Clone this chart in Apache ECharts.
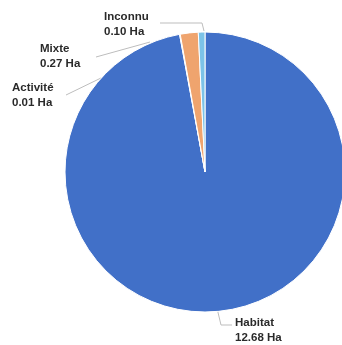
<!DOCTYPE html>
<html><head><meta charset="utf-8">
<script src="https://cdn.jsdelivr.net/npm/echarts@6/dist/echarts.min.js"></script>
<style>html,body{margin:0;padding:0;background:#fff}#c{width:342px;height:345px}</style>
</head><body><div id="c"></div>
<script>
var categories = ['Habitat', 'Activité', 'Mixte', 'Inconnu'];
var values = [12.68, 0.01, 0.27, 0.10];
var colors = ['#4170C8', '#E2E2E2', '#EFA46E', '#7CC3E8'];

var labelPos = {
  0: {x: 235, y: 315, line: [[221, 325], [232, 325]]},
  1: {x: 12, y: 80, line: [[66, 95]], start: [101, 78]},
  2: {x: 40, y: 41, line: [[96, 57]], start: [150, 42]},
  3: {x: 104, y: 9, line: [[202, 23], [160, 23]], start: [204, 31]}
};

var chart = echarts.init(document.getElementById('c'), null, {renderer: 'canvas'});
chart.setOption({
  animation: false,
  series: [{
    type: 'pie',
    center: [205, 172],
    radius: 140,
    startAngle: 90,
    clockwise: true,
    avoidLabelOverlap: false,
    itemStyle: {borderColor: '#fff', borderWidth: 1},
    data: categories.map(function (c, i) {
      return {name: c, value: values[i], itemStyle: {color: colors[i]}};
    }),
    label: {
      show: true,
      formatter: function (p) { return p.name + '\n' + p.value.toFixed(2) + ' Ha'; },
      fontFamily: 'Liberation Sans, Arial, sans-serif',
      fontWeight: 'bold',
      fontSize: 11.5,
      lineHeight: 15,
      color: '#2a2a2a'
    },
    labelLine: {show: true, lineStyle: {color: '#bdbdbd', width: 1}},
    labelLayout: function (params) {
      var lp = labelPos[params.dataIndex];
      var start = lp.start || (params.labelLinePoints ? params.labelLinePoints[0] : lp.line[0]);
      return {
        x: lp.x, y: lp.y, align: 'left', verticalAlign: 'top',
        labelLinePoints: [start].concat(lp.line)
      };
    }
  }]
});
</script>
</body></html>
